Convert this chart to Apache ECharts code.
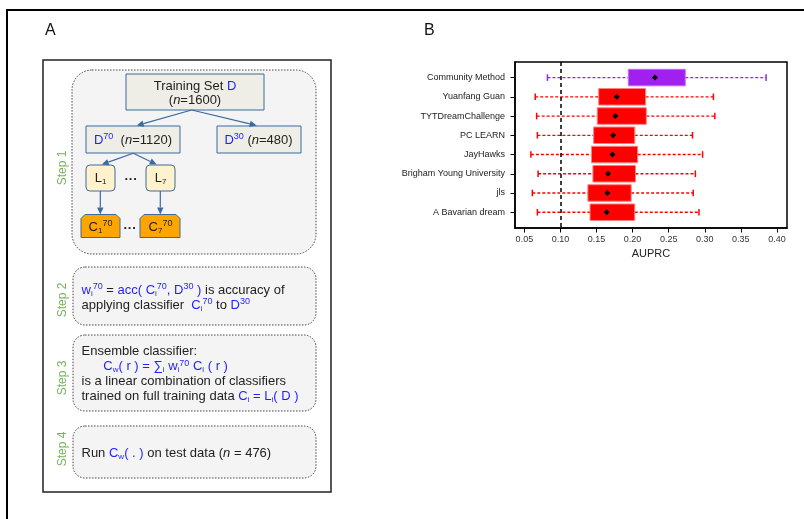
<!DOCTYPE html>
<html><head><meta charset="utf-8">
<script src="https://cdn.jsdelivr.net/npm/echarts/dist/echarts.min.js"></script>
<style>html,body{margin:0;padding:0;background:#fff}#c{width:804px;height:519px}</style>
</head><body><div id="c"></div>
<script>
// ---- data (panel B) ----
const categories = ['Community Method','Yuanfang Guan','TYTDreamChallenge','PC LEARN','JayHawks','Brigham Young University','jls','A Bavarian dream'];
const whiskerLow  = [0.082,0.065,0.067,0.068,0.059,0.069,0.061,0.068];
const q1          = [0.194,0.153,0.151,0.146,0.143,0.145,0.138,0.141];
const centerVal   = [0.231,0.178,0.176,0.173,0.172,0.166,0.165,0.164];
const q3          = [0.273,0.218,0.219,0.203,0.207,0.204,0.198,0.203];
const whiskerHigh = [0.385,0.312,0.314,0.283,0.297,0.287,0.284,0.292];
const refLine = 0.104;
const xTicks = [0.05,0.10,0.15,0.20,0.25,0.30,0.35,0.40];
const yTicks = [0,1,2,3,4,5,6,7];

const F = "'Liberation Sans', Arial, sans-serif";
const BLUE = '#1f1fff', DARK = '#222', AR = '#3d6a9e', GREEN = '#76b35a';
const boxFill = ['#a020f0','#ff0000','#ff0000','#ff0000','#ff0000','#ff0000','#ff0000','#ff0000'];
const boxEdge = ['#c070f5','#ff8080','#ff8080','#ff8080','#ff8080','#ff8080','#ff8080','#ff8080'];

// ---- diagram helpers (panel A) ----
function rect(x1,y1,x2,y2,st,r,z){
  return {type:'rect', z:z||1, shape:{x:x1,y:y1,width:x2-x1,height:y2-y1,r:r||0}, style:st};
}
const rich = {
  b:    {fill:BLUE, color:BLUE, fontSize:13, fontFamily:F, lineHeight:15},
  bsub: {fill:BLUE, color:BLUE, fontSize:8, fontFamily:F, lineHeight:8, verticalAlign:'bottom'},
  bsup: {fill:BLUE, color:BLUE, fontSize:9, fontFamily:F, lineHeight:11, verticalAlign:'top'},
  sub:  {fill:DARK, color:DARK, fontSize:8, fontFamily:F, lineHeight:8, verticalAlign:'bottom'},
  sup:  {fill:DARK, color:DARK, fontSize:9, fontFamily:F, lineHeight:11, verticalAlign:'top'},
  i:    {fill:DARK, color:DARK, fontSize:13, fontFamily:F, fontStyle:'italic', lineHeight:15}
};
function txt(x,y,text,o){
  o = o||{};
  const al = o.align||'left';
  return {type:'text', z:10, x:x, y:y, rotation:o.rot||0,
    style:{text:text, x:0, y:0, fontSize:o.size||13, fontFamily:F, fontWeight:o.weight||'normal',
      fill:o.fill||DARK, lineHeight:15, align:al, textAlign:al, verticalAlign:'middle', textVerticalAlign:'middle', rich:rich}};
}
function arrow(x1,y1,x2,y2){
  const a = Math.atan2(y2-y1,x2-x1), L=7, W=3.2;
  const bx = x2-L*Math.cos(a), by = y2-L*Math.sin(a);
  const px = -Math.sin(a)*W, py = Math.cos(a)*W;
  return [{type:'line', z:5, shape:{x1:x1,y1:y1,x2:bx,y2:by}, style:{stroke:AR, lineWidth:1.2}},
          {type:'polygon', z:5, shape:{points:[[x2,y2],[bx+px,by+py],[bx-px,by-py]]}, style:{fill:AR}}];
}
function snip(x1,y1,x2,y2,c){
  return {type:'polygon', z:3, shape:{points:[[x1,y1+c],[x1+c,y1],[x2-c,y1],[x2,y1+c],[x2,y2],[x1,y2]]},
    style:{fill:'#ffa500', stroke:AR, lineWidth:1}};
}
const stepSt = {fill:'#f4f4f4', stroke:'#444', lineWidth:1, lineDash:[1.5,1.5]};
const boxSt = {fill:'#efeee6', stroke:AR, lineWidth:1};
const lSt = {fill:'#fff2cc', stroke:AR, lineWidth:1};

const g = [];
g.push(rect(7,10,830,540,{fill:'none', stroke:'#000', lineWidth:2},0,0));
g.push(txt(45,31,'A',{size:16, fill:'#111'}));
g.push(txt(424,31,'B',{size:16, fill:'#111'}));
g.push(rect(43,60,331,492,{fill:'#fff', stroke:'#222', lineWidth:1.5},0,1));
g.push(rect(72,70,316,254,stepSt,20,2));
g.push(rect(73,267,316,325,stepSt,12,2));
g.push(rect(73,335,316,411,stepSt,12,2));
g.push(rect(73,426,316,478,stepSt,12,2));
g.push(txt(63,168,'Step 1',{size:12, fill:GREEN, rot:Math.PI/2, align:'center'}));
g.push(txt(63,300,'Step 2',{size:12, fill:GREEN, rot:Math.PI/2, align:'center'}));
g.push(txt(63,378,'Step 3',{size:12, fill:GREEN, rot:Math.PI/2, align:'center'}));
g.push(txt(63,449,'Step 4',{size:12, fill:GREEN, rot:Math.PI/2, align:'center'}));
// step 1 diagram
g.push(rect(126,74,264,110,boxSt,0,3));
g.push(txt(195,86,'Training Set {b|D}',{align:'center'}));
g.push(txt(195,100.5,'({i|n}=1600)',{align:'center'}));
g.push(rect(86,126,180,153,boxSt,0,3));
g.push(txt(133,140,'{b|D}{bsup|70}  ({i|n}=1120)',{align:'center'}));
g.push(rect(217,126,301,153,boxSt,0,3));
g.push(txt(258.5,140,'{b|D}{bsup|30} ({i|n}=480)',{align:'center'}));
g.push(rect(86,165,115,191,lSt,4,3));
g.push(rect(146,165,175,191,lSt,4,3));
g.push(txt(100.5,178,'L{sub|1}',{align:'center'}));
g.push(txt(160.5,178,'L{sub|7}',{align:'center'}));
g.push(txt(131,179,'\u00b7\u00b7\u00b7',{align:'center', weight:'bold'}));
g.push(snip(81,214.5,120,237.5,4));
g.push(snip(140,214.5,180,237.5,4));
g.push(txt(100.5,227,'C{sub|1}{sup|70}',{align:'center'}));
g.push(txt(160.5,227,'C{sub|7}{sup|70}',{align:'center'}));
g.push(txt(130,228,'\u00b7\u00b7\u00b7',{align:'center', weight:'bold'}));
[].concat(arrow(191.7,110,136.7,125.5), arrow(191.7,110,256.7,125.5),
  arrow(133.3,153.3,101.7,164.5), arrow(133.3,153.3,156.7,164.5),
  arrow(100.3,191,100.3,214.5), arrow(160.3,191,160.3,214.5)).forEach(e=>g.push(e));
// step 2-4 text
g.push(txt(81.5,290,'{b|w}{bsub|i}{bsup|70} = {b|acc( C}{bsub|i}{bsup|70}{b|, D}{bsup|30}{b| )} is accuracy of'));
g.push(txt(81.5,305,'applying classifier  {b|C}{bsub|i}{bsup|70} to {b|D}{bsup|30}'));
g.push(txt(81.5,351.5,'Ensemble classifier:'));
g.push(txt(103.3,366.5,'{b|C}{bsub|w}{b|( r ) = \u2211}{bsub|i}{b| w}{bsub|i}{bsup|70}{b| C}{bsub|i}{b| ( r )}'));
g.push(txt(81.5,381.5,'is a linear combination of classifiers'));
g.push(txt(81.5,396.5,'trained on full training data {b|C}{bsub|i}{b| = L}{bsub|i}{b|( D )}'));
g.push(txt(81.5,453,'Run {b|C}{bsub|w}{b|( . )} on test data ({i|n} = 476)'));

// ---- chart (panel B) ----
const chart = echarts.init(document.getElementById('c'), null, {renderer:'canvas'});
const data = categories.map((c,i)=>[i, whiskerLow[i], q1[i], centerVal[i], q3[i], whiskerHigh[i]]);
chart.setOption({
  animation:false,
  backgroundColor:'#fff',
  textStyle:{fontFamily:F},
  graphic:{elements:g},
  grid:{left:515, top:62, width:272, height:166, show:true, borderColor:'#000', borderWidth:1.5, containLabel:false, outerBoundsMode:'none'},
  xAxis:{type:'value', min:0.037, max:0.414, position:'bottom',
    axisLine:{show:true, onZero:false, lineStyle:{color:'#000', width:1.5}},
    axisTick:{show:true, length:4.5, customValues:xTicks, lineStyle:{color:'#000', width:1}},
    axisLabel:{customValues:xTicks, fontSize:9, color:'#333', margin:7, fontFamily:F, formatter:v=>v.toFixed(2)},
    splitLine:{show:false},
    name:'AUPRC', nameLocation:'middle', nameGap:20, nameTextStyle:{fontSize:11, color:'#222', fontFamily:F}},
  yAxis:{type:'value', min:-0.81, max:7.82, inverse:true, position:'left',
    axisLine:{show:true, onZero:false, lineStyle:{color:'#000', width:1.5}},
    axisTick:{show:true, length:4.5, customValues:yTicks, lineStyle:{color:'#000', width:1}},
    axisLabel:{customValues:yTicks, fontSize:9, color:'#222', margin:10, fontFamily:F, formatter:v=>categories[Math.round(v)]||''},
    splitLine:{show:false}},
  series:[{
    type:'custom', data:data, encode:{x:[1,2,3,4,5], y:0}, clip:false,
    renderItem:function(params, api){
      const idx = api.value(0);
      const p = v => api.coord([v, idx]);
      const y = p(api.value(1))[1];
      const xl = p(api.value(1))[0], x1 = p(api.value(2))[0], xm = p(api.value(3))[0], x3 = p(api.value(4))[0], xh = p(api.value(5))[0];
      const unit = api.size([0,1])[1];
      const bh = unit*0.43;
      const col = boxFill[idx], edge = boxEdge[idx];
      const ws = {stroke:col, lineWidth:1.3, lineDash:[3,2]};
      const cs = {stroke:col, lineWidth:1.5};
      const cap = 3.3, d = 3;
      return {type:'group', children:[
        {type:'line', shape:{x1:xl,y1:y,x2:x1,y2:y}, style:ws},
        {type:'line', shape:{x1:x3,y1:y,x2:xh,y2:y}, style:ws},
        {type:'line', shape:{x1:xl,y1:y-cap,x2:xl,y2:y+cap}, style:cs},
        {type:'line', shape:{x1:xh,y1:y-cap,x2:xh,y2:y+cap}, style:cs},
        {type:'rect', shape:{x:x1,y:y-bh,width:x3-x1,height:2*bh}, style:{fill:col, stroke:edge, lineWidth:1}},
        {type:'polygon', shape:{points:[[xm,y-d],[xm+d,y],[xm,y+d],[xm-d,y]]}, style:{fill:'#000'}}
      ]};
    },
    markLine:{silent:true, symbol:'none', label:{show:false},
      lineStyle:{color:'#000', type:[4,3], width:1.5},
      data:[{xAxis:refLine}]}
  }]
});
</script>
</body></html>
